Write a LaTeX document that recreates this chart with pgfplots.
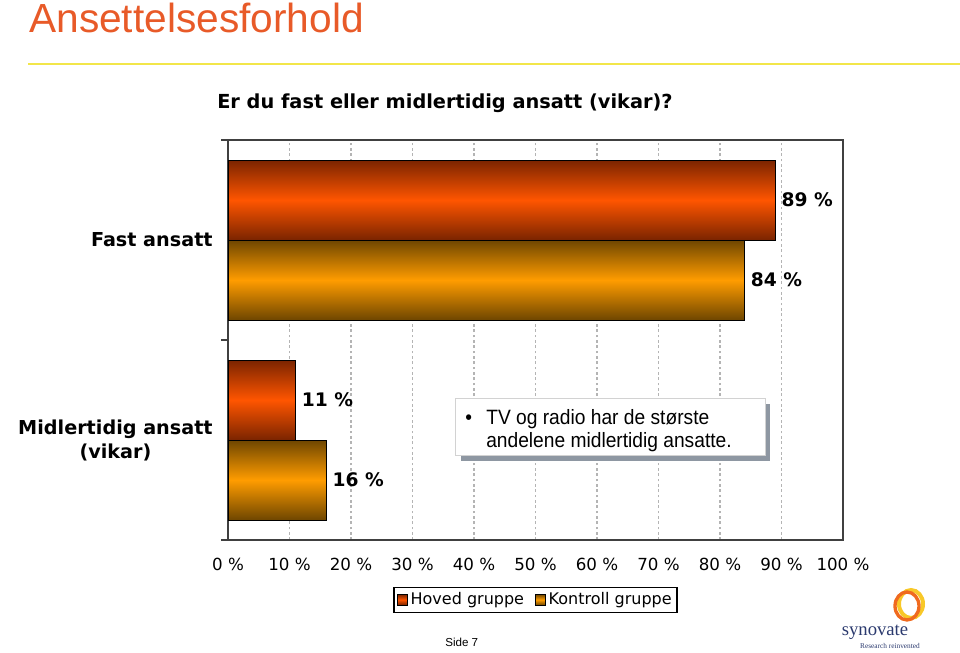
\documentclass[border=0pt]{standalone}
\usepackage{pgfplots}
\pgfplotsset{compat=1.18}
\usepackage{fontspec}
\setmainfont{DejaVu Sans}
\newfontfamily\arial{Liberation Sans}
\newfontfamily\seriffont{Liberation Serif}
\definecolor{slideorange}{HTML}{E85A28}
\definecolor{lineyellow}{HTML}{F2E64A}
\definecolor{hovedEdge}{HTML}{7A2400}
\definecolor{hovedMid}{HTML}{FF5500}
\definecolor{kontEdge}{HTML}{6E4600}
\definecolor{kontMid}{HTML}{FF9C00}
\definecolor{gridgray}{HTML}{B4B4B4}
\definecolor{shadowgray}{HTML}{8E97A2}
\definecolor{navy}{HTML}{2B3A6E}
\definecolor{logoorange}{HTML}{F06A1E}
\definecolor{logoyellow}{HTML}{F8C828}
\pgfplotsset{
  hoved/.style={bar shift=0.2, draw=black, line width=0.5pt, top color=hovedEdge, bottom color=hovedEdge, middle color=hovedMid},
  kontroll/.style={bar shift=-0.2, draw=black, line width=0.5pt, top color=kontEdge, bottom color=kontEdge, middle color=kontMid},
}
\begin{document}
\begin{tikzpicture}[x=0.75pt,y=-0.75pt]
\path[use as bounding box] (0,0) rectangle (960,653);
% slide title
\node[anchor=base west, inner sep=0, text=slideorange, font=\arial\fontsize{30.5}{32}\selectfont] at (29,32) {Ansettelsesforhold};
\draw[lineyellow, line width=1.5pt] (28,63.5) -- (960,63.5);
% chart title
\node[anchor=base west, inner sep=0, font=\bfseries\fontsize{14.5}{16}\selectfont] at (217,108) {Er du fast eller midlertidig ansatt (vikar)?};
\begin{axis}[
  at={(171pt,-405pt)}, anchor=south west,
  scale only axis, width=461.25pt, height=300pt,
  xmin=0, xmax=100, ymin=-0.5, ymax=1.5,
  xbar, bar width=0.4,
  axis line style={draw=black!75, line width=0.8pt},
  xtick={0,10,...,100},
  xticklabel={\pgfmathprintnumber{\tick}~\%},
  xticklabel style={font=\fontsize{12.5}{14}\selectfont, yshift=-10pt},
  ytick={0,1},
  ytick pos=left,
  yticklabels={{Midlertidig ansatt\\(vikar)},{Fast ansatt}},
  yticklabel style={font=\bfseries\fontsize{14.4}{18}\selectfont, align=center, xshift=-8pt},
  major tick length=0pt,
  extra y ticks={-0.5,0.5,1.5},
  extra y tick labels={},
  extra y tick style={tick align=outside, major tick length=5pt, tick style={draw=black!75, line width=0.8pt}, grid=none},
  xmajorgrids,
  major grid style={draw=gridgray, dash pattern=on 2pt off 2pt, line width=0.8pt},
  /pgf/number format/assume math mode=true,
  point meta=x,
  nodes near coords={\pgfmathprintnumber{\pgfplotspointmeta}~\%},
  every node near coord/.append style={font=\bfseries\fontsize{14}{16}\selectfont, anchor=west, inner sep=0pt, xshift=4.5pt, text=black},
  legend style={at={(0.5,-0.117)}, anchor=north, legend columns=2, draw=black, line width=0.8pt, font=\fontsize{12}{14}\selectfont, inner sep=2pt, /tikz/every even column/.append style={column sep=6pt}},
  legend image code/.code={\draw[#1,/tikz/.cd,draw=black,line width=0.5pt] (0pt,-4pt) rectangle (8pt,4pt);},
]
\addplot[hoved] coordinates {(89,1)};
\addplot[kontroll] coordinates {(84,1)};
\addplot[hoved, forget plot] coordinates {(11,0)};
\addplot[kontroll, forget plot] coordinates {(16,0)};
\legend{Hoved gruppe, Kontroll gruppe}
\end{axis}
% text box
\fill[shadowgray] (461,404) rectangle (770,461);
\draw[fill=white, draw=gray!35, line width=0.5pt] (455,398) rectangle (765,455);
\node[anchor=base west, inner sep=0, font=\arial\fontsize{14.4}{17}\selectfont] at (465,424) {\scalebox{1}[1.08]{\textbullet}};
\node[anchor=base west, inner sep=0, font=\arial\fontsize{14.4}{17}\selectfont] at (486,424) {\scalebox{1}[1.08]{TV og radio har de største}};
\node[anchor=base west, inner sep=0, font=\arial\fontsize{14.4}{17}\selectfont] at (486,447) {\scalebox{1}[1.08]{andelene midlertidig ansatte.}};
% footer
\node[anchor=base west, inner sep=0, font=\arial\fontsize{8.7}{10}\selectfont] at (445,646) {Side 7};
% logo
\draw[logoyellow, line width=3pt] (911,604) ellipse (12 and 14);
\draw[logoorange, line width=2.5pt] (907,606) ellipse (12 and 14);
\node[anchor=base, inner sep=0, text=navy, font=\seriffont\fontsize{14}{16}\selectfont] at (875,635) {synovate};
\node[anchor=base, inner sep=0, text=navy, font=\seriffont\fontsize{5.5}{6}\selectfont] at (890,648) {Research reinvented};
\end{tikzpicture}
\end{document}
